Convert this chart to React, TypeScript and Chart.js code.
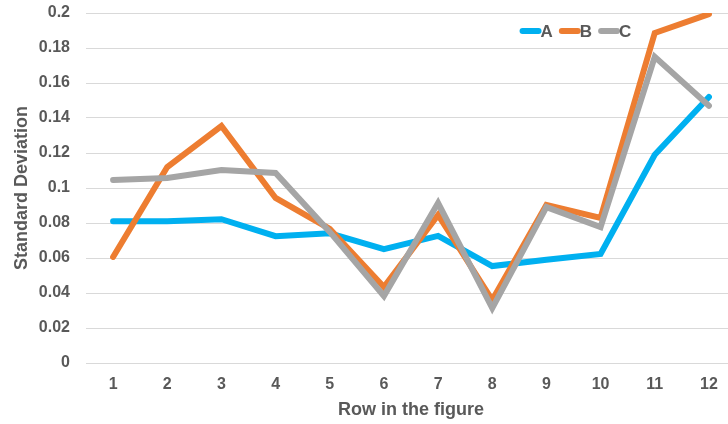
import React, { useEffect, useRef } from "react";
import { Chart, registerables } from "chart.js";

Chart.register(...registerables);

const categories = ["1", "2", "3", "4", "5", "6", "7", "8", "9", "10", "11", "12"];
const seriesA = [0.081, 0.081, 0.0822, 0.0725, 0.0741, 0.065, 0.0726, 0.0554, 0.059, 0.0623, 0.119, 0.152];
const seriesB = [0.0606, 0.112, 0.1354, 0.0943, 0.0767, 0.0434, 0.0846, 0.036, 0.0903, 0.0829, 0.1886, 0.1994];
const seriesC = [0.1046, 0.1057, 0.1103, 0.1086, 0.0749, 0.0383, 0.0914, 0.0314, 0.0891, 0.0777, 0.175, 0.147];
const yTickLabels = ["0", "0.02", "0.04", "0.06", "0.08", "0.1", "0.12", "0.14", "0.16", "0.18", "0.2"];
const seriesNames = ["A", "B", "C"];
const seriesColors = ["#00B0F0", "#ED7D31", "#A5A5A5"];

const FONT = "'Liberation Sans', Arial, sans-serif";
const TEXT = "#595959";

const legendPlugin = {
  id: "insideLegend",
  afterDraw(chart: any) {
    const ctx = chart.ctx;
    const area = chart.chartArea;
    ctx.save();
    ctx.font = `bold 17px ${FONT}`;
    ctx.textBaseline = "middle";
    let x = area.left + area.width * 0.667;
    const y = area.top + 18;
    seriesNames.forEach((name, i) => {
      ctx.strokeStyle = seriesColors[i];
      ctx.lineWidth = 6;
      ctx.lineCap = "round";
      ctx.beginPath();
      ctx.moveTo(x + 3, y);
      ctx.lineTo(x + 19, y);
      ctx.stroke();
      ctx.fillStyle = TEXT;
      ctx.fillText(name, x + 21, y + 1);
      x += 21 + ctx.measureText(name).width + 6;
    });
    ctx.restore();
  },
};

export default function App() {
  const ref = useRef<HTMLCanvasElement | null>(null);
  useEffect(() => {
    if (!ref.current) return;
    const data = [seriesA, seriesB, seriesC];
    const chart = new Chart(ref.current, {
      type: "line",
      data: {
        labels: categories,
        datasets: data.map((d, i) => ({
          label: seriesNames[i],
          data: d,
          borderColor: seriesColors[i],
          backgroundColor: seriesColors[i],
          borderWidth: 6,
          pointRadius: 0,
          tension: 0,
          fill: false,
          borderCapStyle: "round" as const,
          order: 2 - i,
        })),
      },
      options: {
        responsive: false,
        animation: false,
        devicePixelRatio: 1,
        layout: { padding: { top: 13, right: 4, left: 0, bottom: 0 } },
        plugins: {
          legend: { display: false },
          tooltip: { enabled: false },
        },
        scales: {
          x: {
            type: "category",
            offset: true,
            grid: { display: false, drawTicks: false },
            border: { display: false },
            ticks: {
              color: TEXT,
              font: { family: FONT, size: 16, weight: "bold" },
              padding: 12,
              maxRotation: 0,
            },
            title: {
              display: true,
              text: "Row in the figure",
              color: TEXT,
              font: { family: FONT, size: 18, weight: "bold" },
              padding: { top: 0, bottom: 3 },
            },
            afterFit: (s: any) => {
              s.height = 61;
              s.paddingLeft = 0;
              s.paddingRight = 0;
            },
          },
          y: {
            min: 0,
            max: 0.2,
            ticks: {
              stepSize: 0.02,
              color: TEXT,
              font: { family: FONT, size: 16, weight: "bold" },
              padding: 16,
              callback: (_v: any, i: number) => yTickLabels[i],
            },
            grid: { color: "#D9D9D9", lineWidth: 1, drawTicks: false },
            border: { display: false },
            title: {
              display: true,
              text: "Standard Deviation",
              color: TEXT,
              font: { family: FONT, size: 18, weight: "bold" },
              padding: { top: 11, bottom: 0 },
            },
            afterFit: (s: any) => {
              s.width = 86;
              s.paddingTop = 0;
              s.paddingBottom = 0;
            },
          },
        },
      },
      plugins: [legendPlugin],
    });
    return () => chart.destroy();
  }, []);
  return (
    <div style={{ position: "fixed", left: 0, top: 0, width: 740, height: 424, background: "#fff" }}>
      <canvas ref={ref} width={740} height={424} style={{ width: 740, height: 424, display: "block" }} />
    </div>
  );
}
